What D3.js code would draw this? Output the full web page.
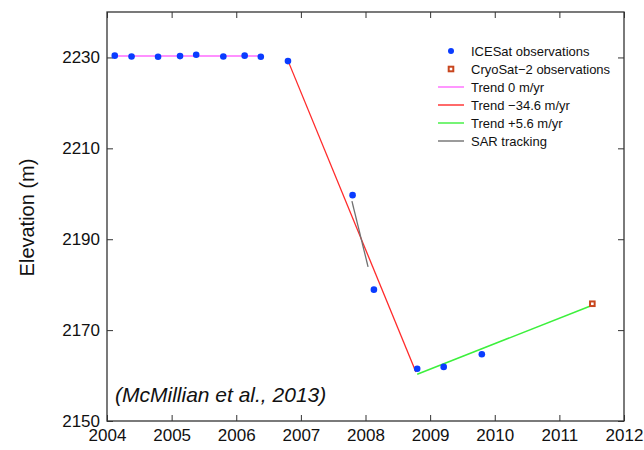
<!DOCTYPE html>
<html>
<head>
<meta charset="utf-8">
<script src="https://cdn.jsdelivr.net/npm/d3@7"></script>
<style>
  html, body { margin: 0; padding: 0; background: #fff; }
  svg { display: block; font-family: "Liberation Sans", Arial, sans-serif; }
</style>
</head>
<body>
<svg id="chart" width="644" height="450"></svg>
<script>
// ICESat elevation observations (decimal year, metres)
const icesatYears = [2004.12, 2004.38, 2004.79, 2005.13, 2005.38, 2005.80, 2006.13, 2006.38,
                     2006.80, 2007.80, 2008.13, 2008.80, 2009.21, 2009.80];
const icesatElev  = [2230.4, 2230.2, 2230.15, 2230.3, 2230.6, 2230.2, 2230.4, 2230.15,
                     2229.2, 2199.7, 2178.9, 2161.5, 2161.9, 2164.7];

// CryoSat-2 observation
const cryosatYears = [2011.51];
const cryosatElev  = [2175.8];

// Trend segments: [start year, end year, start elevation, rate m/yr]
const trendStable  = [2004.12, 2006.38, 2230.3, 0];
const trendDrop    = [2006.80, 2008.78, 2229.3, -34.6];
const trendRecover = [2008.80, 2011.51, 2160.3, 5.6];

// SAR feature-tracking segment
const sarYears = [2007.79, 2008.04];
const sarElev  = [2198.4, 2183.9];

// Axis ticks
const xTicks = [2004, 2005, 2006, 2007, 2008, 2009, 2010, 2011, 2012];
const yTicks = [2150, 2170, 2190, 2210, 2230];

// Legend entries
const legendLabels = ["ICESat observations", "CryoSat\u22122 observations", "Trend 0 m/yr",
                      "Trend \u221234.6 m/yr", "Trend +5.6 m/yr", "SAR tracking"];

const colors = {
  icesat: "#0a3cff",
  cryosat: "#c8461e",
  stable: "#ff6bff",
  drop: "#ff2a2a",
  recover: "#3cf03c",
  sar: "#707070"
};

const svg = d3.select("#chart");
const plotLeft = 107, plotRight = 624, plotTop = 12, plotBottom = 421;

const x = d3.scaleLinear().domain([2004, 2012]).range([plotLeft, plotRight]);
const y = d3.scaleLinear().domain([2150, 2240]).range([plotBottom, plotTop]);

// Axes with inward ticks on all four sides
const tickLen = 6;
const axisBottom = svg.append("g").attr("transform", `translate(0,${plotBottom})`)
  .call(d3.axisBottom(x).tickValues(xTicks).tickFormat(d3.format("d")).tickSizeInner(-tickLen).tickSizeOuter(0).tickPadding(7));
const axisTop = svg.append("g").attr("transform", `translate(0,${plotTop})`)
  .call(d3.axisTop(x).tickValues(xTicks).tickFormat("").tickSizeInner(-tickLen).tickSizeOuter(0));
const axisLeft = svg.append("g").attr("transform", `translate(${plotLeft},0)`)
  .call(d3.axisLeft(y).tickValues(yTicks).tickFormat(d3.format("d")).tickSizeInner(-tickLen).tickSizeOuter(0).tickPadding(7));
const axisRight = svg.append("g").attr("transform", `translate(${plotRight},0)`)
  .call(d3.axisRight(y).tickValues(yTicks).tickFormat("").tickSizeInner(-tickLen).tickSizeOuter(0));

[axisBottom, axisTop, axisLeft, axisRight].forEach(g => {
  g.select(".domain").remove();
  g.selectAll(".tick line").attr("stroke", "#333").attr("stroke-width", 1);
  g.selectAll(".tick text").attr("fill", "#111").style("font-size", "17px");
});
axisBottom.selectAll(".tick text").attr("dy", "0.75em");

// Plot frame
svg.append("rect")
  .attr("x", plotLeft).attr("y", plotTop)
  .attr("width", plotRight - plotLeft).attr("height", plotBottom - plotTop)
  .attr("fill", "none").attr("stroke", "#333").attr("stroke-width", 1.3);

// Y axis title
svg.append("text")
  .attr("transform", `translate(27,${(plotTop + plotBottom) / 2 + 1}) rotate(-90)`)
  .attr("text-anchor", "middle")
  .attr("dominant-baseline", "central")
  .style("font-size", "20px").attr("fill", "#111")
  .text("Elevation (m)");

// Trend lines
function trendPoints(t) {
  const [x0, x1, e0, rate] = t;
  return [[x0, e0], [x1, e0 + rate * (x1 - x0)]];
}
const line = d3.line().x(d => x(d[0])).y(d => y(d[1]));

svg.append("path").datum(trendPoints(trendStable))
  .attr("d", line).attr("stroke", colors.stable).attr("stroke-width", 1.5).attr("fill", "none");
svg.append("path").datum(trendPoints(trendDrop))
  .attr("d", line).attr("stroke", colors.drop).attr("stroke-width", 1.3).attr("fill", "none");
svg.append("path").datum(trendPoints(trendRecover))
  .attr("d", line).attr("stroke", colors.recover).attr("stroke-width", 1.5).attr("fill", "none");
svg.append("path").datum(sarYears.map((yr, i) => [yr, sarElev[i]]))
  .attr("d", line).attr("stroke", colors.sar).attr("stroke-width", 1.3).attr("fill", "none");

// ICESat points
svg.append("g").selectAll("circle")
  .data(icesatYears.map((yr, i) => [yr, icesatElev[i]]))
  .join("circle")
  .attr("cx", d => x(d[0])).attr("cy", d => y(d[1]))
  .attr("r", 3.3).attr("fill", colors.icesat);

// CryoSat-2 points
svg.append("g").selectAll("rect")
  .data(cryosatYears.map((yr, i) => [yr, cryosatElev[i]]))
  .join("rect")
  .attr("x", d => x(d[0]) - 2.3).attr("y", d => y(d[1]) - 2.3)
  .attr("width", 4.6).attr("height", 4.6)
  .attr("fill", "#fff").attr("stroke", colors.cryosat).attr("stroke-width", 2);

// Legend
const legend = svg.append("g").attr("transform", "translate(438,51)");
const rowH = 18;
legendLabels.forEach((label, i) => {
  const g = legend.append("g").attr("transform", `translate(0,${i * rowH})`);
  if (i === 0) {
    g.append("circle").attr("cx", 13).attr("cy", 0).attr("r", 3).attr("fill", colors.icesat);
  } else if (i === 1) {
    g.append("rect").attr("x", 10.7).attr("y", -2.3).attr("width", 4.6).attr("height", 4.6)
      .attr("fill", "#fff").attr("stroke", colors.cryosat).attr("stroke-width", 2);
  } else {
    const c = [colors.stable, colors.drop, colors.recover, colors.sar][i - 2];
    g.append("line").attr("x1", 0).attr("x2", 26).attr("y1", 0).attr("y2", 0)
      .attr("stroke", c).attr("stroke-width", 1.4);
  }
  g.append("text").attr("x", 33).attr("y", 0).attr("dominant-baseline", "central")
    .style("font-size", "13px").attr("fill", "#111").text(label);
});

// Citation
svg.append("text")
  .attr("x", 115).attr("y", 394)
  .attr("dominant-baseline", "central")
  .style("font-size", "21px").style("font-style", "italic").attr("fill", "#111")
  .text("(McMillian et al., 2013)");
</script>
</body>
</html>
